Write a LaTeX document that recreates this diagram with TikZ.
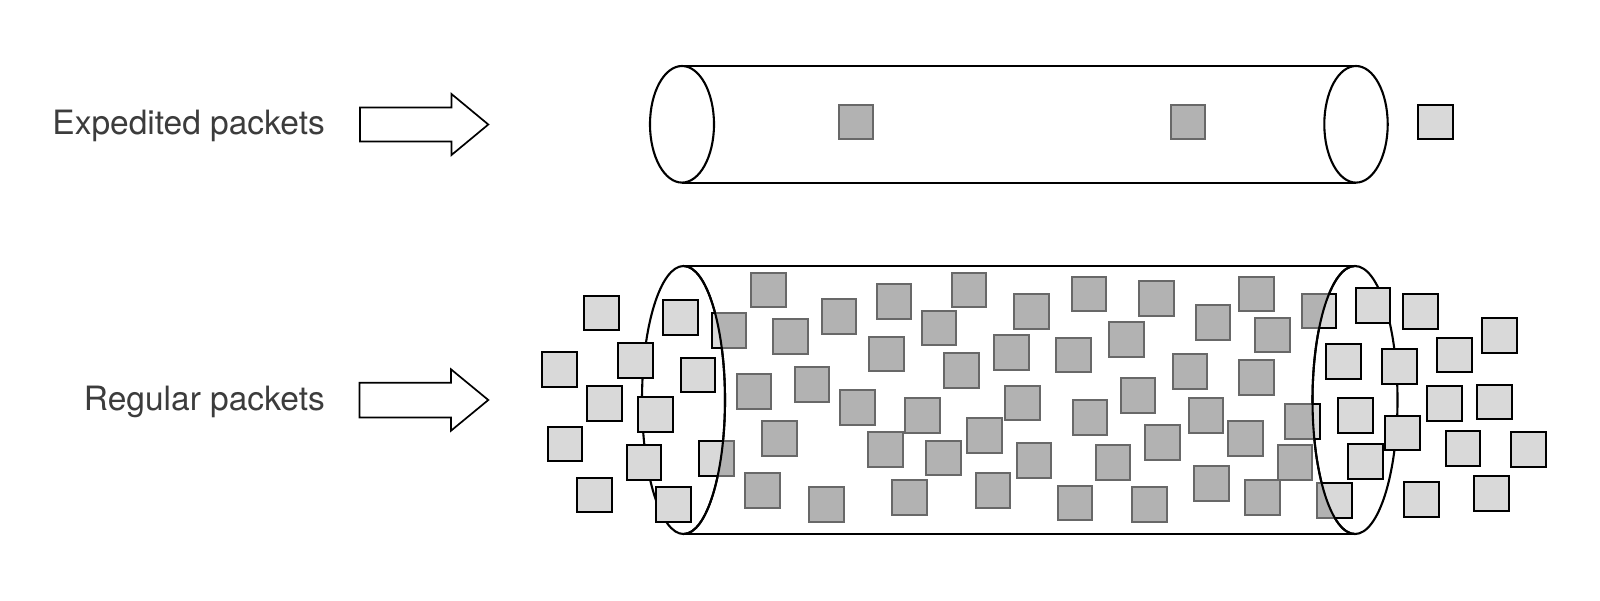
\documentclass[tikz,border=0pt]{standalone}
\usepackage{fontspec}
\setmainfont{TeX Gyre Heros}
\begin{document}
\begin{tikzpicture}[x=1pt,y=-1pt]
\definecolor{txtgray}{HTML}{3C3C3C}
\definecolor{darkfill}{HTML}{B2B2B2}
\definecolor{darkedge}{HTML}{686868}
\definecolor{lightfill}{HTML}{D9D9D9}
\tikzset{
  tube/.style={draw=black,line width=2.1pt},
  lightsq/.style={draw=black,fill=lightfill,line width=2pt},
  darksq/.style={draw=darkedge,fill=darkfill,line width=2pt},
  blockarrow/.style={draw=black,fill=white,line width=1.7pt,line join=miter},
  lbl/.style={text=txtgray,font=\fontsize{33.5}{40}\selectfont,inner sep=0pt}
}
\useasboundingbox[fill=white] (0,0) rectangle (1600,600);

% labels
\node[lbl,anchor=base east] (exp) at (325,134.3) {Expedited packets};
\node[lbl,anchor=base east] (reg) at (325,410) {Regular packets};

% block arrows
\draw[blockarrow] (360,107.5) -- (451.5,107.5) -- (451.5,94) -- (488.3,124.5) -- (451.5,155) -- (451.5,141.5) -- (360,141.5) -- cycle;
\draw[blockarrow] (359.5,382.7) -- (451,382.7) -- (451,369.3) -- (488.3,400) -- (451,430.7) -- (451,417.5) -- (359.5,417.5) -- cycle;

% top tube
\draw[tube] (682,66) -- (1356,66);
\draw[tube] (682,182.7) -- (1356,182.7);
\draw[tube,fill=white] (682,124.3) ellipse [x radius=32, y radius=58.3];
\draw[tube,fill=white] (1356,124.3) ellipse [x radius=31.7, y radius=58.3];
\draw[darksq] (838.5,104.5) rectangle ++(34.5,34.5);
\draw[darksq] (1170.5,104.5) rectangle ++(34.5,34.5);
\draw[lightsq] (1418,104.5) rectangle ++(34.5,34.5);

% bottom tube
\draw[tube] (683.5,266) -- (1355,266);
\draw[tube] (683.5,534) -- (1355,534);
\draw[tube] (683.5,400) ellipse [x radius=41.5, y radius=134];
\draw[tube] (1355,400) ellipse [x radius=42.5, y radius=134];

\def\sqlist{584.3/295.7, 542/352, 587.3/386, 547.7/426.7, 577.3/477.7,
 618.3/343.3, 638.3/397, 626.7/445, 656/487.3, 663.3/300, 680.7/357.7,
 699/441, 711.7/313.3, 751/272.7, 736.7/374.3, 762.3/421, 745.3/473.3,
 773.3/319.3, 821.7/299.3, 876.7/284, 951.7/272.7, 1014/294, 921.7/310.7,
 869.3/336.7, 994/335, 1056/337.7, 944.3/353.3, 794.7/367.3, 840/390,
 905/398.3, 1005.3/385.7, 868.3/432.3, 926/440.7, 967/418.3, 1016.7/443.3,
 809/487.3, 892.3/480, 975.7/473.3, 1057.5/485.7, 1071.7/276.7,
 1139.3/281, 1239.3/276.7, 1301.7/293.5, 1109.3/322, 1195.7/305,
 1255/317.7, 1172.7/354.3, 1239.3/360, 1120.7/378.3, 1072.7/400,
 1188.7/398.3, 1228/421, 1285/404, 1095.7/445, 1145/425, 1277.5/445,
 1132.3/487.3, 1194.3/466, 1245/480, 1317.3/483.3,
 1355.7/288.3, 1403.3/294, 1482.3/318.3, 1326/344, 1382.3/349,
 1437.3/337.7, 1427.3/386, 1477/384.7, 1338.3/398.3, 1385/415.7,
 1445.7/431, 1511/432.3, 1348.3/444, 1404.3/482.3, 1474/476}

\foreach \px/\py in \sqlist {\draw[lightsq] (\px,\py) rectangle ++(34.5,34.5);}

\begin{scope}
  \clip (683.5,266) rectangle (1355,534);
  \begin{scope}[even odd rule]
    \clip (0,0) rectangle (1600,600)
      (683.5,400) ellipse [x radius=41.5, y radius=134]
      (1355,400) ellipse [x radius=42.5, y radius=134];
    \foreach \px/\py in \sqlist {\draw[darksq] (\px,\py) rectangle ++(34.5,34.5);}
  \end{scope}
\end{scope}

% inner arcs of the ellipse ends, over the packets
\begin{scope}
  \clip (683.5,250) rectangle (760,550);
  \draw[tube] (683.5,400) ellipse [x radius=41.5, y radius=134];
\end{scope}
\begin{scope}
  \clip (1290,250) rectangle (1355,550);
  \draw[tube] (1355,400) ellipse [x radius=42.5, y radius=134];
\end{scope}
\end{tikzpicture}
\end{document}
